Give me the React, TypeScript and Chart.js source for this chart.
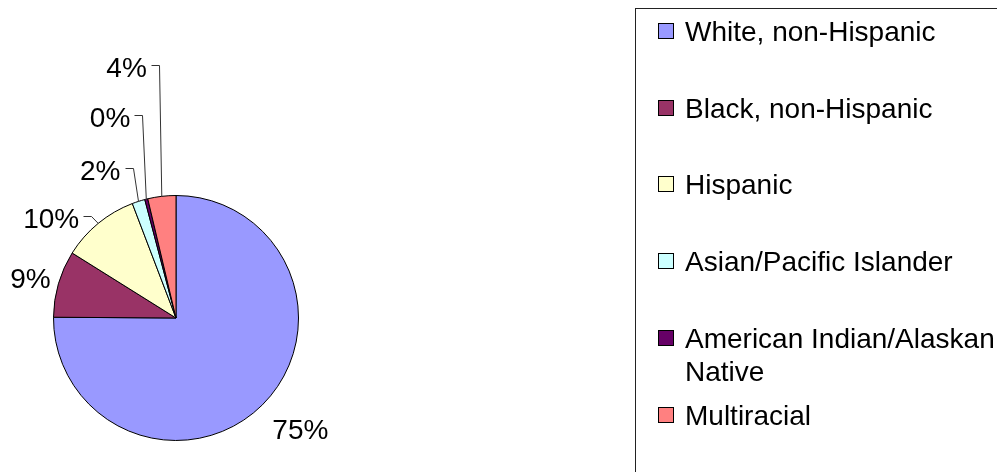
import React, { useEffect, useRef } from 'react';
import { Chart, registerables } from 'chart.js';

Chart.register(...registerables);

const categories = [
  'White, non-Hispanic',
  'Black, non-Hispanic',
  'Hispanic',
  'Asian/Pacific Islander',
  'American Indian/Alaskan Native',
  'Multiracial',
];
const shares = [75.1, 8.8, 10.3, 1.7, 0.4, 3.7];
const sliceColors = ['#9999FF', '#993366', '#FFFFCC', '#CCFFFF', '#660066', '#FF8080'];

// layout of the percentage labels: offset from the slice's outer-edge midpoint
const labelOffsets = [
  { dx: 38, dy: 24, leader: false },
  { dx: -28, dy: -6, leader: false },
  { dx: -7, dy: -7, leader: true },
  { dx: -6, dy: -33, leader: true },
  { dx: -4, dy: -84, leader: true },
  { dx: -3, dy: -131, leader: true },
];

const FONT_SIZE = 28;
const FONT = `${FONT_SIZE}px "Liberation Sans", Arial, sans-serif`;

const labelsPlugin = {
  id: 'excelLabels',
  afterDraw(chart: any) {
    const ctx = chart.ctx;
    const meta = chart.getDatasetMeta(0);
    const data = chart.data.datasets[0].data as number[];
    const total = data.reduce((a, b) => a + b, 0);
    ctx.save();
    ctx.font = FONT;
    ctx.fillStyle = '#000';
    meta.data.forEach((el: any, i: number) => {
      const p = el.getProps(['x', 'y', 'startAngle', 'endAngle', 'outerRadius'], true);
      const mid = (p.startAngle + p.endAngle) / 2;
      const ex = p.x + Math.cos(mid) * p.outerRadius;
      const ey = p.y + Math.sin(mid) * p.outerRadius;
      const off = labelOffsets[i];
      const text = Math.round((data[i] / total) * 100) + '%';
      const ax = ex + off.dx;
      const ay = ey + off.dy;
      if (off.leader) {
        ctx.strokeStyle = '#333';
        ctx.lineWidth = 1;
        ctx.beginPath();
        ctx.moveTo(ex, ey);
        ctx.lineTo(Math.round(ax) + 0.5, Math.round(ay) + 0.5);
        ctx.lineTo(Math.round(ax) - 8 + 0.5, Math.round(ay) + 0.5);
        ctx.stroke();
        ctx.textAlign = 'right';
        ctx.textBaseline = 'alphabetic';
        ctx.fillText(text, ax - 12, ay + 1.5 + 0.358 * FONT_SIZE);
      } else {
        ctx.textAlign = 'center';
        ctx.textBaseline = 'alphabetic';
        ctx.fillText(text, ax, ay + 0.358 * FONT_SIZE);
      }
    });

    // legend
    const area = { left: 635, top: 8 };
    ctx.strokeStyle = '#222';
    ctx.lineWidth = 1;
    ctx.strokeRect(area.left + 0.5, area.top + 0.5, 600, 600);
    const markerX = 658;
    const textX = 685;
    const maxW = chart.width - textX - 2;
    const colors = chart.data.datasets[0].backgroundColor as string[];
    (chart.data.labels as string[]).forEach((label: string, i: number) => {
      const cy = 31 + i * 76.7;
      ctx.fillStyle = colors[i];
      ctx.fillRect(markerX, Math.round(cy - 8), 16, 16);
      ctx.strokeStyle = '#000';
      ctx.strokeRect(markerX + 0.5, Math.round(cy - 8) + 0.5, 15, 15);
      // wrap
      const words = label.split(' ');
      const lines: string[] = [];
      let cur = '';
      words.forEach((w) => {
        const t = cur ? cur + ' ' + w : w;
        if (ctx.measureText(t).width > maxW && cur) {
          lines.push(cur);
          cur = w;
        } else cur = t;
      });
      if (cur) lines.push(cur);
      ctx.fillStyle = '#000';
      ctx.textAlign = 'left';
      ctx.textBaseline = 'alphabetic';
      lines.forEach((ln, j) => {
        ctx.fillText(ln, textX, cy + j * 33 + 0.358 * FONT_SIZE);
      });
    });
    ctx.restore();
  },
};

export default function App() {
  const ref = useRef<HTMLCanvasElement>(null);
  useEffect(() => {
    document.body.style.margin = '0';
    const chart = new Chart(ref.current!, {
      type: 'pie',
      data: {
        labels: categories,
        datasets: [
          {
            data: shares,
            backgroundColor: sliceColors,
            borderColor: '#000',
            borderWidth: 1,
          },
        ],
      },
      options: {
        responsive: false,
        animation: false,
        layout: { padding: { left: 53, top: 195, right: 698, bottom: 31 } },
        plugins: { legend: { display: false }, tooltip: { enabled: false } },
      },
      plugins: [labelsPlugin],
    });
    return () => chart.destroy();
  }, []);
  return (
    <div style={{ width: 997, height: 472, background: '#fff' }}>
      <canvas ref={ref} width={997} height={472} />
    </div>
  );
}
